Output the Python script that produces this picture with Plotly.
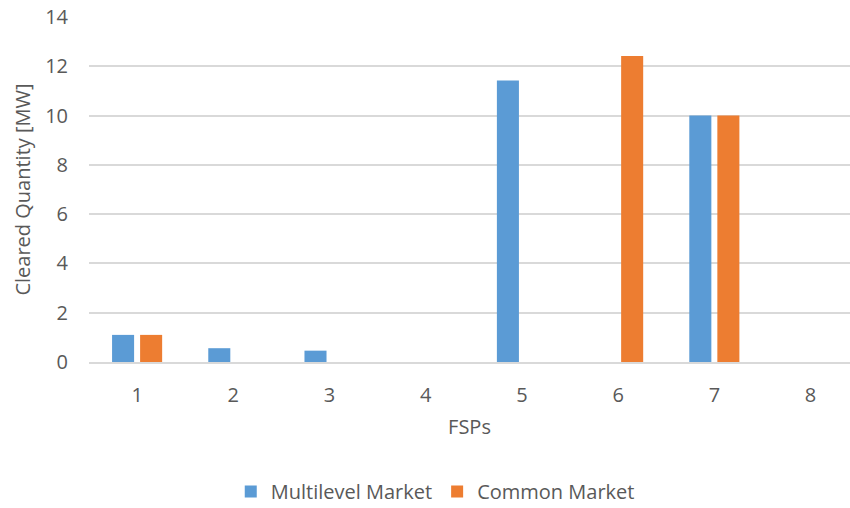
import plotly.graph_objects as go

fsps = ["1", "2", "3", "4", "5", "6", "7", "8"]
multilevel = [1.1, 0.56, 0.46, 0, 11.42, 0, 10.0, 0]
common = [1.1, 0, 0, 0, 0, 12.42, 10.0, 0]
y_ticks = [0, 2, 4, 6, 8, 10, 12, 14]

font_family = "Open Sans, Noto Sans, sans-serif"
text_color = "#595959"

fig = go.Figure()
fig.add_trace(go.Bar(x=fsps, y=multilevel, name="Multilevel Market",
                     marker=dict(color="#5B9BD5", line=dict(width=0))))
fig.add_trace(go.Bar(x=fsps, y=common, name="Common Market",
                     marker=dict(color="#ED7D31", line=dict(width=0))))

fig.update_layout(
    width=850, height=508,
    margin=dict(l=89, r=0, t=17, b=146, autoexpand=False),
    paper_bgcolor="white", plot_bgcolor="white",
    barmode="group", bargap=0.417, bargroupgap=0.214,
    font=dict(family=font_family, color=text_color, size=20),
    showlegend=True,
    legend=dict(orientation="h", x=0.455, xanchor="center", y=-0.375, yanchor="middle",
                font=dict(size=20, color=text_color), itemsizing="constant",
                itemwidth=30, traceorder="normal", borderwidth=0,
                bgcolor="rgba(0,0,0,0)"),
)
fig.update_xaxes(
    type="category", range=[-0.5, 7.41], automargin=False,
    showgrid=False, showline=True, linecolor="#D9D9D9", linewidth=1.5,
    ticks="", ticklabelstandoff=14, tickfont=dict(size=20, color=text_color),
    title=dict(text="FSPs", font=dict(size=20, color=text_color), standoff=13),
)
fig.update_yaxes(
    range=[0, 14], tickvals=y_ticks, showgrid=True, gridcolor="#D9D9D9", gridwidth=1.5,
    zeroline=False, showline=False, ticks="", ticklabelstandoff=20, automargin=False,
    tickfont=dict(size=20, color=text_color),
    title=dict(text="Cleared Quantity [MW]", font=dict(size=20, color=text_color), standoff=9),
)

fig.write_html("out.html")
